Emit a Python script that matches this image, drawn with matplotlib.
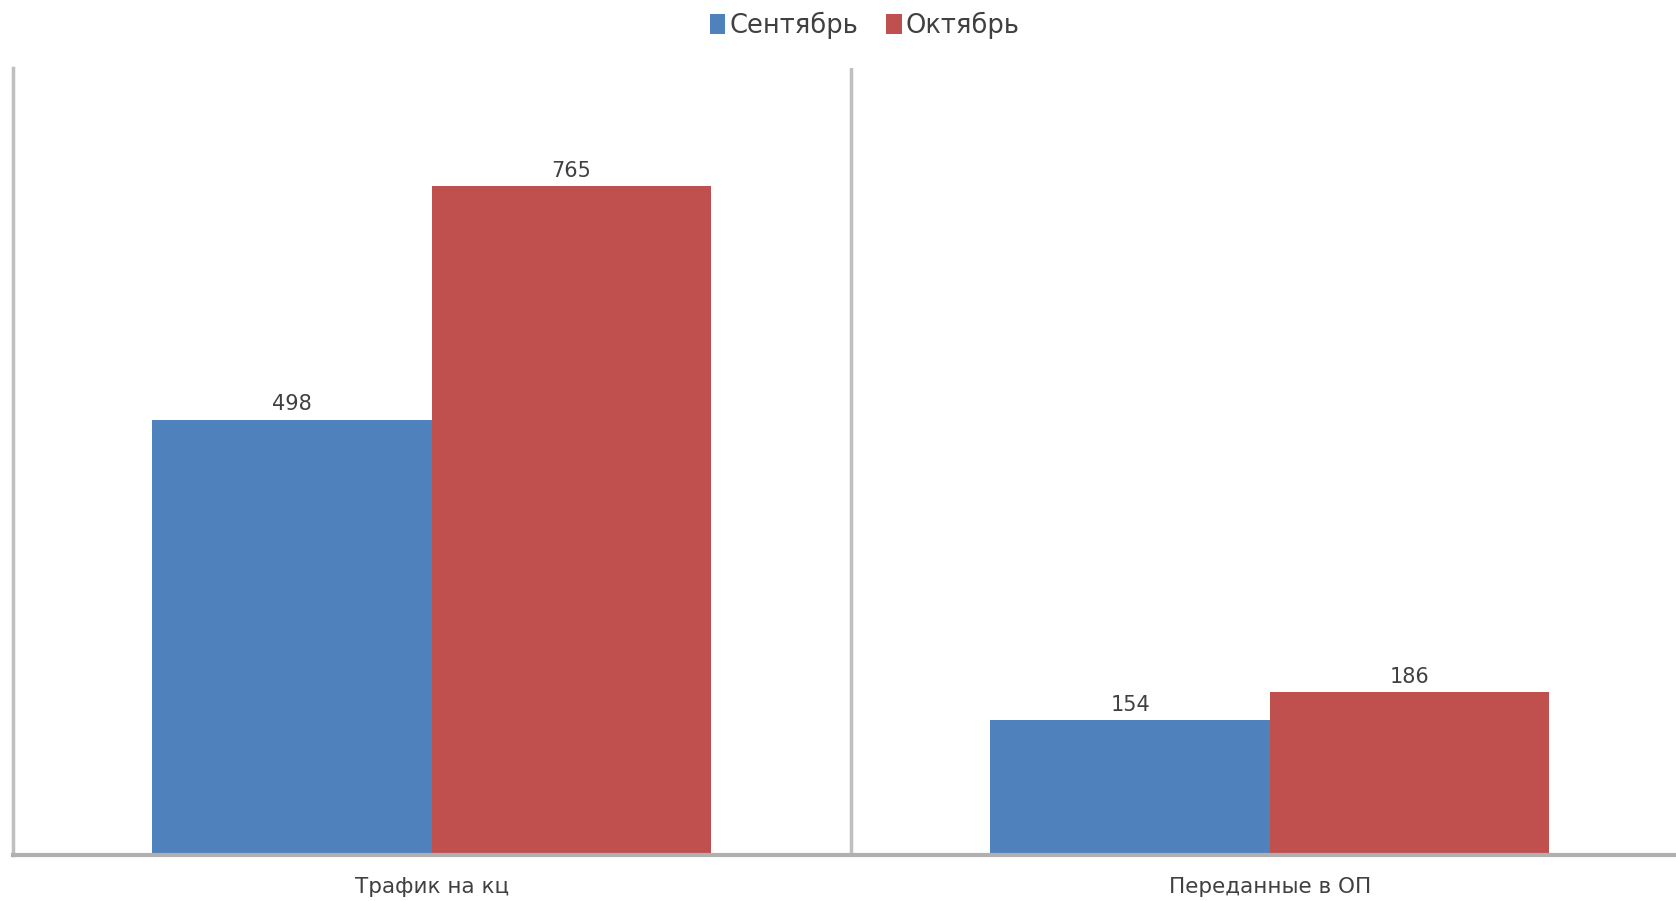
import matplotlib
matplotlib.use("Agg")
import matplotlib.pyplot as plt
import numpy as np

categories = ["Трафик на кц", "Переданные в ОП"]
series_names = ["Сентябрь", "Октябрь"]
september = [498, 154]
october = [765, 186]
colors = ["#4F81BD", "#C0504D"]

plt.rcParams['font.family'] = ['DejaVu Sans']

fig = plt.figure(figsize=(16.76, 9.01), dpi=100)
ax = fig.add_axes([0.0076, 0.051, 1.0, 0.873])

x = np.arange(len(categories))
w = 1/3
b1 = ax.bar(x - w/2, september, w, color=colors[0], label=series_names[0])
b2 = ax.bar(x + w/2, october, w, color=colors[1], label=series_names[1])

for bars in (b1, b2):
    for r in bars:
        ax.annotate(f"{int(r.get_height())}", (r.get_x() + r.get_width()/2, r.get_height()),
                    xytext=(0, 4), textcoords="offset points", ha="center", va="bottom",
                    fontsize=15, color="#404040")

ax.set_xlim(-0.5, len(categories) - 0.5)
ax.set_ylim(0, 900)
ax.set_yticks([])
ax.set_xticks(x)
ax.set_xticklabels(categories, fontsize=15.5, color="#404040")
ax.tick_params(axis='x', length=0, pad=16)

for s in ("top", "right"):
    ax.spines[s].set_visible(False)
ax.spines["left"].set_color("#bfbfbf")
ax.spines["left"].set_linewidth(2.5)
ax.spines["bottom"].set_color("#b0b0b0")
ax.spines["bottom"].set_linewidth(3)

for xv in np.arange(0.5, len(categories) - 0.5, 1):
    ax.axvline(xv, color="#bfbfbf", linewidth=2.5, zorder=0)

fig.legend(loc="upper center", bbox_to_anchor=(0.516, 1.013), ncol=2, frameon=False,
           fontsize=18.5, handlelength=0.6, handleheight=0.8, handletextpad=0.15,
           columnspacing=1.1, labelcolor="#404040")

fig.savefig("out.png", dpi=100)
